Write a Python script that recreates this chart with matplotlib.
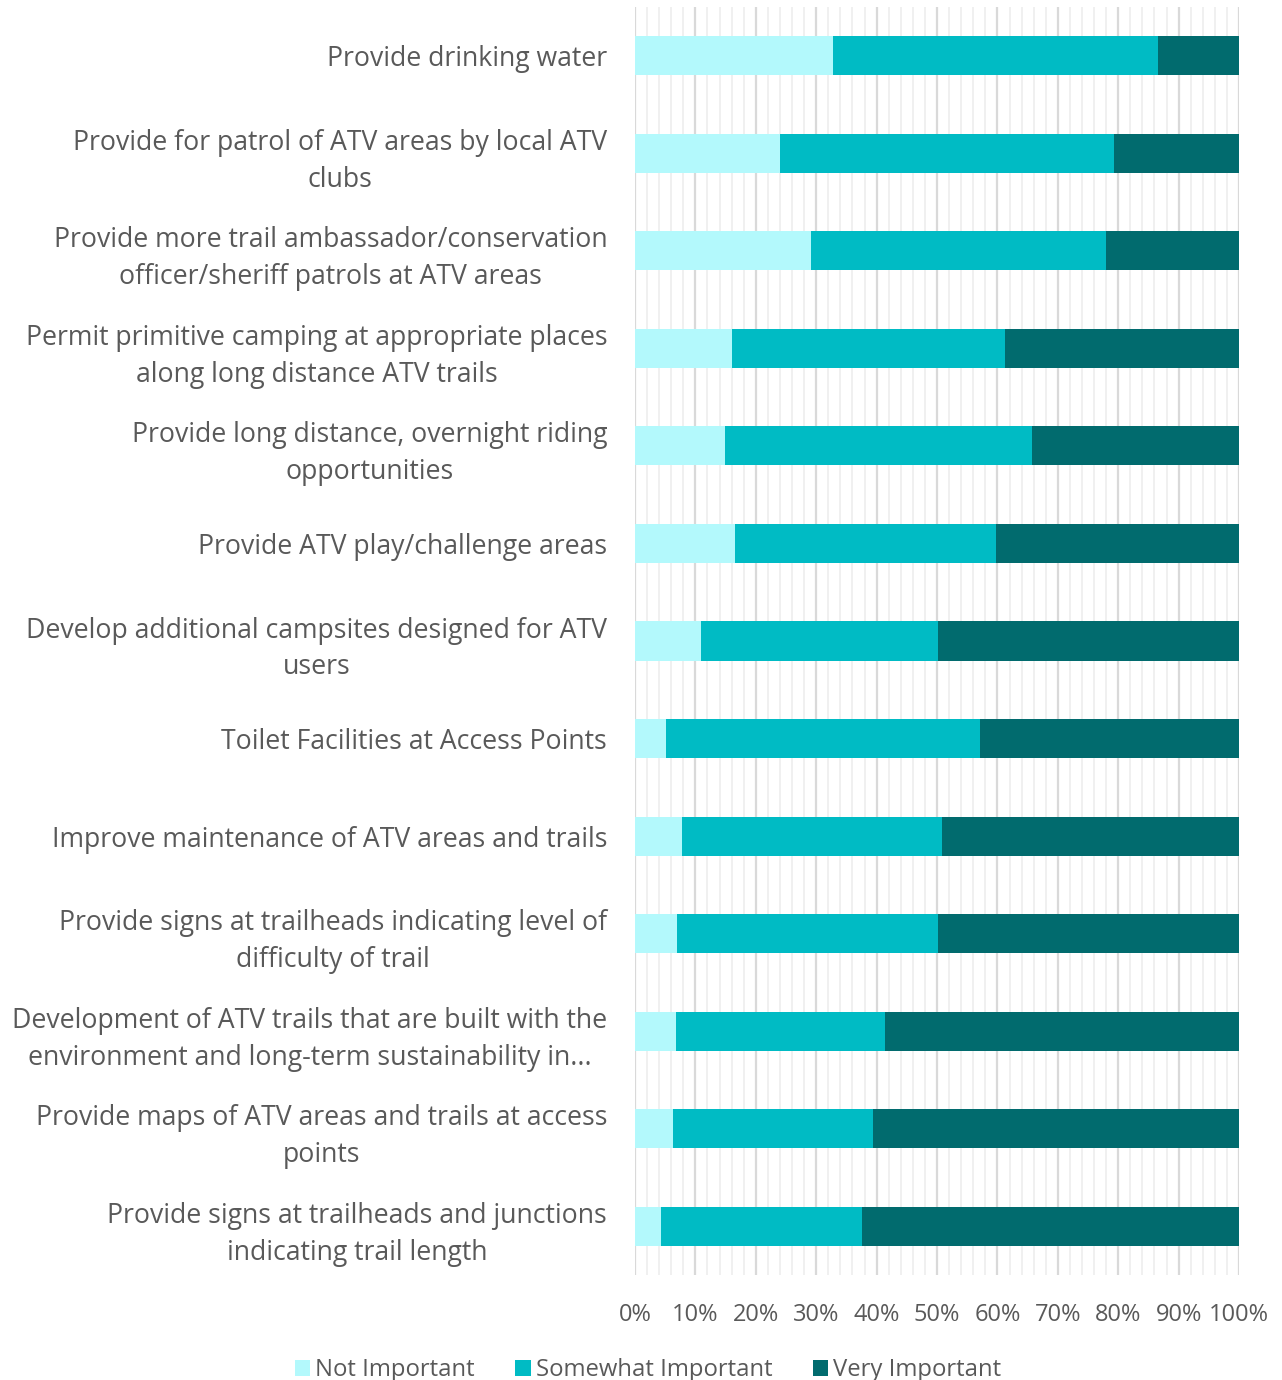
import numpy as np
import matplotlib.pyplot as plt
from matplotlib.ticker import MultipleLocator, PercentFormatter

plt.rcParams['font.family'] = ['Open Sans', 'DejaVu Sans']

labels = [
    "Provide drinking water",
    "Provide for patrol of ATV areas by local ATV\nclubs",
    "Provide more trail ambassador/conservation\nofficer/sheriff patrols at ATV areas",
    "Permit primitive camping at appropriate places\nalong long distance ATV trails",
    "Provide long distance, overnight riding\nopportunities",
    "Provide ATV play/challenge areas",
    "Develop additional campsites designed for ATV\nusers",
    "Toilet Facilities at Access Points",
    "Improve maintenance of ATV areas and trails",
    "Provide signs at trailheads indicating level of\ndifficulty of trail",
    "Development of ATV trails that are built with the\nenvironment and long-term sustainability in...",
    "Provide maps of ATV areas and trails at access\npoints",
    "Provide signs at trailheads and junctions\nindicating trail length",
]
not_important = [32.8, 24.0, 29.1, 16.1, 14.9, 16.6, 10.9, 5.1, 7.8, 7.0, 6.8, 6.3, 4.3]
somewhat_important = [53.8, 55.3, 48.9, 45.2, 50.8, 43.2, 39.3, 52.0, 43.0, 43.2, 34.6, 33.1, 33.3]
very_important = [13.4, 20.7, 22.0, 38.7, 34.3, 40.2, 49.8, 42.9, 49.2, 49.8, 58.6, 60.6, 62.4]

series = [
    ("Not Important", not_important, "#b3f9fc"),
    ("Somewhat Important", somewhat_important, "#00bbc4"),
    ("Very Important", very_important, "#016b6e"),
]

fig = plt.figure(figsize=(12.82, 13.8), dpi=100)
ax = fig.add_axes([0.4953, 0.076, 0.4712, 0.919])

y = np.arange(len(labels))
left = np.zeros(len(labels))
for name, vals, color in series:
    vals = np.array(vals)
    ax.barh(y, vals, left=left, height=0.4, color=color, label=name, zorder=3)
    left += vals

ax.set_xlim(0, 100)
ax.set_ylim(len(labels) - 0.5, -0.5)
ax.xaxis.set_major_locator(MultipleLocator(10))
ax.xaxis.set_minor_locator(MultipleLocator(2))
ax.xaxis.set_major_formatter(PercentFormatter(decimals=0))
ax.grid(axis='x', which='major', color='#d9d9d9', linewidth=1.6, zorder=0)
ax.grid(axis='x', which='minor', color='#f0f0f0', linewidth=1.4, zorder=0)

ax.set_yticks(y)
ax.set_yticklabels(labels, multialignment='center', linespacing=1.42)
ax.tick_params(axis='y', length=0, pad=20, labelsize=19.2, labelcolor='#595959')
ax.tick_params(axis='x', which='both', length=0, pad=20, labelsize=17, labelcolor='#595959')
for s in ax.spines.values():
    s.set_visible(False)

fig.legend(loc='lower center', bbox_to_anchor=(0.5055, -0.017), ncol=3, frameon=False,
           fontsize=17.2, labelcolor='#595959', handlelength=0.65, handleheight=0.65,
           handletextpad=0.2, columnspacing=1.7)

fig.savefig('out.png', dpi=100)
